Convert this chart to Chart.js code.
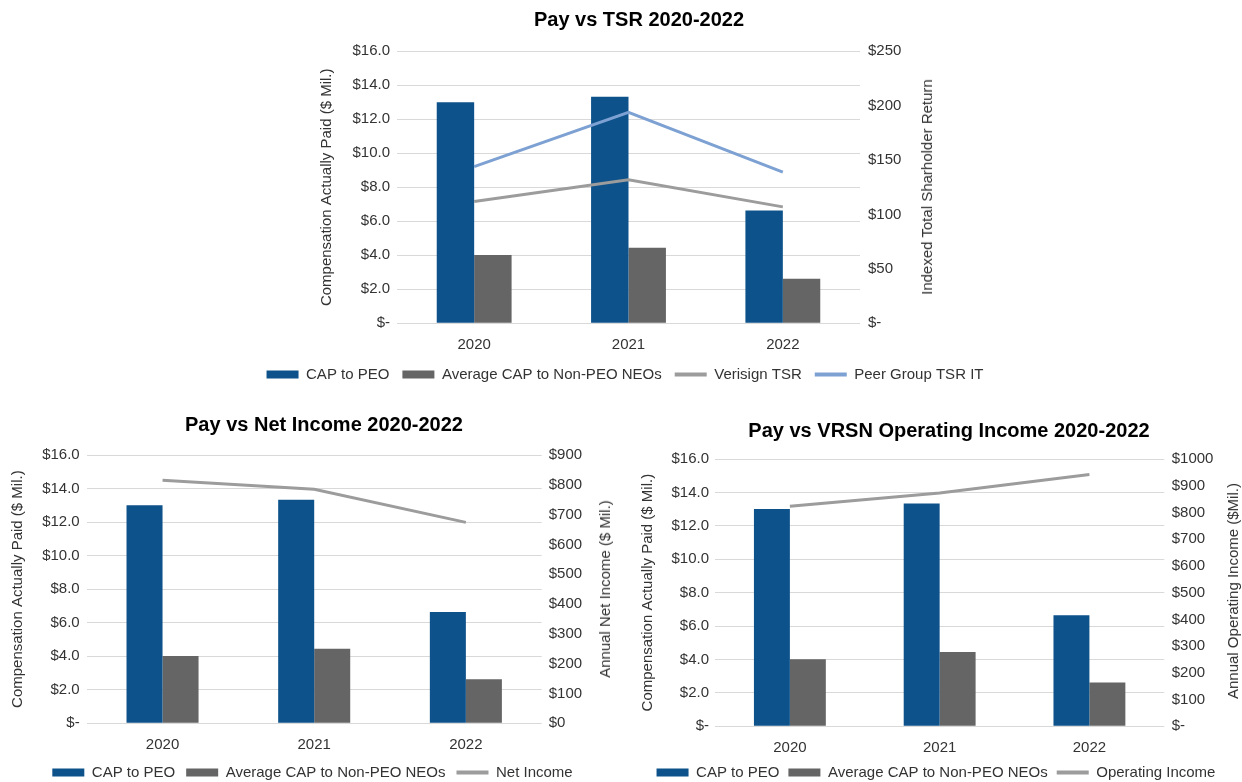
<!DOCTYPE html>
<html>
<head>
<meta charset="utf-8">
<script src="https://cdn.jsdelivr.net/npm/chart.js@4.4.0/dist/chart.umd.min.js"></script>
<style>
html,body{margin:0;padding:0;width:1242px;height:782px;overflow:hidden;background:#fff;}
canvas{position:absolute;}
.t{position:absolute;transform:translate(-50%,-50%);white-space:nowrap;font-family:'Liberation Sans',Arial,sans-serif;color:#000;font-weight:bold;font-size:20px;line-height:24px;}
.r{position:absolute;transform:translate(-50%,-50%) rotate(-90deg);white-space:nowrap;font-family:'Liberation Sans',Arial,sans-serif;color:#333;font-size:15px;line-height:18px;}
</style>
</head>
<body>
<canvas id="c1" width="770" height="392" style="left:240px;top:0px;width:770px;height:392px"></canvas>
<canvas id="c2" width="625" height="390" style="left:0px;top:400px;width:625px;height:390px"></canvas>
<canvas id="c3" width="612" height="390" style="left:630px;top:400px;width:612px;height:390px"></canvas>

<div class="t" style="left:639px;top:19px">Pay vs TSR 2020-2022</div>
<div class="t" style="left:324px;top:424px">Pay vs Net Income 2020-2022</div>
<div class="t" style="left:949px;top:430px">Pay vs VRSN Operating Income 2020-2022</div>

<div class="r" style="left:927px;top:187px">Indexed Total Sharholder Return</div>
<div class="r" style="left:605px;top:589px">Annual Net Income ($ Mil.)</div>
<div class="r" style="left:1233px;top:591px">Annual Operating Income ($Mil.)</div>

<script>
// ---- data ----
const years = ['2020', '2021', '2022'];
const capToPeo = [13.0, 13.33, 6.64];
const avgCapNonPeo = [4.02, 4.45, 2.62];
const verisignTsr = [112, 132, 107];
const peerGroupTsr = [144, 194, 139];
const netIncome = [815, 785, 674];
const operatingIncome = [823, 873, 942];

const compTickLabels = ['$-', '$2.0', '$4.0', '$6.0', '$8.0', '$10.0', '$12.0', '$14.0', '$16.0'];
const tsrTickLabels = ['$-', '$50', '$100', '$150', '$200', '$250'];
const netIncomeTickLabels = ['$0', '$100', '$200', '$300', '$400', '$500', '$600', '$700', '$800', '$900'];
const opIncomeTickLabels = ['$-', '$100', '$200', '$300', '$400', '$500', '$600', '$700', '$800', '$900', '$1000'];

// ---- styles ----
const FONT = "'Liberation Sans', Arial, Helvetica, sans-serif";
const BLUE = '#0D528A';
const DARKGRAY = '#656565';
const LINEGRAY = '#9C9C9C';
const LIGHTBLUE = '#7DA1D2';
const TEXT = '#333333';

Chart.defaults.font.family = FONT;
Chart.defaults.font.size = 15;
Chart.defaults.color = TEXT;

function build(id, p) {
  const datasets = [
    { type: 'bar', label: 'CAP to PEO', data: capToPeo, backgroundColor: BLUE, borderWidth: 0,
      yAxisID: 'y', order: 2, barPercentage: 1, categoryPercentage: p.cat },
    { type: 'bar', label: 'Average CAP to Non-PEO NEOs', data: avgCapNonPeo, backgroundColor: DARKGRAY, borderWidth: 0,
      yAxisID: 'y', order: 2, barPercentage: 1, categoryPercentage: p.cat }
  ].concat(p.lines.map(l => ({
    type: 'line', label: l.label, data: l.data, borderColor: l.color, backgroundColor: l.color,
    borderWidth: 3, pointRadius: 0, pointHoverRadius: 0, tension: 0, fill: false, yAxisID: 'y1', order: 1
  })));

  return new Chart(document.getElementById(id), {
    type: 'bar',
    data: { labels: years, datasets },
    options: {
      responsive: false,
      animation: false,
      devicePixelRatio: 1,
      layout: { padding: { top: p.padTop, left: 0, right: 0, bottom: 0 } },
      plugins: {
        title: { display: false },
        tooltip: { enabled: false },
        legend: {
          position: 'bottom',
          labels: {
            usePointStyle: true,
            pointStyleWidth: 32,
            boxHeight: 8,
            padding: p.legendPad,
            color: TEXT,
            font: { size: 15 },
            sort: (a, b) => a.datasetIndex - b.datasetIndex,
            generateLabels(chart) {
              return chart.data.datasets.map((ds, i) => {
                const isLine = ds.type === 'line';
                return {
                  text: ds.label,
                  fillStyle: isLine ? ds.borderColor : ds.backgroundColor,
                  strokeStyle: isLine ? ds.borderColor : ds.backgroundColor,
                  lineWidth: isLine ? 4 : 0,
                  pointStyle: isLine ? 'line' : 'rect',
                  hidden: false,
                  datasetIndex: i,
                  fontColor: TEXT
                };
              });
            }
          }
        }
      },
      scales: {
        x: {
          grid: { display: false },
          border: { display: false },
          ticks: { padding: 5, color: TEXT, font: { size: 15 } },
          afterFit: s => { s.height = p.xHeight; }
        },
        y: {
          position: 'left',
          min: 0, max: 16,
          ticks: { stepSize: 2, autoSkip: false, padding: p.leftTickPad, color: TEXT, font: { size: 15 },
                   callback: (v, i) => compTickLabels[i] },
          grid: { color: '#D9D9D9', lineWidth: 1, drawTicks: false },
          border: { display: false },
          title: { display: true, text: 'Compensation Actually Paid ($ Mil.)', color: TEXT,
                   font: { size: 15 }, padding: { top: p.leftTitlePad, bottom: 0 } },
          afterFit: s => { s.width = p.leftWidth; }
        },
        y1: {
          position: 'right',
          min: 0, max: p.rightMax,
          ticks: { stepSize: p.rightStep, autoSkip: false, padding: p.rightTickPad, color: TEXT, font: { size: 15 },
                   callback: (v, i) => p.rightLabels[i] },
          grid: { display: false, drawTicks: false },
          border: { display: false },
          afterFit: s => { s.width = p.rightWidth; }
        }
      }
    }
  });
}

build('c1', {
  lines: [
    { label: 'Verisign TSR', data: verisignTsr, color: LINEGRAY },
    { label: 'Peer Group TSR IT', data: peerGroupTsr, color: LIGHTBLUE }
  ],
  rightMax: 250, rightStep: 50, rightLabels: tsrTickLabels,
  padTop: 51.3, leftWidth: 157, rightWidth: 150, xHeight: 30.7,
  cat: 0.485, leftTickPad: 7, rightTickPad: 8, leftTitlePad: 78, legendPad: 13
});

build('c2', {
  lines: [
    { label: 'Net Income', data: netIncome, color: LINEGRAY }
  ],
  rightMax: 900, rightStep: 100, rightLabels: netIncomeTickLabels,
  padTop: 55, leftWidth: 86.7, rightWidth: 83.3, xHeight: 30.7,
  cat: 0.475, leftTickPad: 7, rightTickPad: 7, leftTitlePad: 9.3, legendPad: 11
});

build('c3', {
  lines: [
    { label: 'Operating Income', data: operatingIncome, color: LINEGRAY }
  ],
  rightMax: 1000, rightStep: 100, rightLabels: opIncomeTickLabels,
  padTop: 59, leftWidth: 85, rightWidth: 77.7, xHeight: 29.7,
  cat: 0.48, leftTickPad: 6, rightTickPad: 7.4, leftTitlePad: 9.3, legendPad: 9
});
</script>
</body>
</html>
